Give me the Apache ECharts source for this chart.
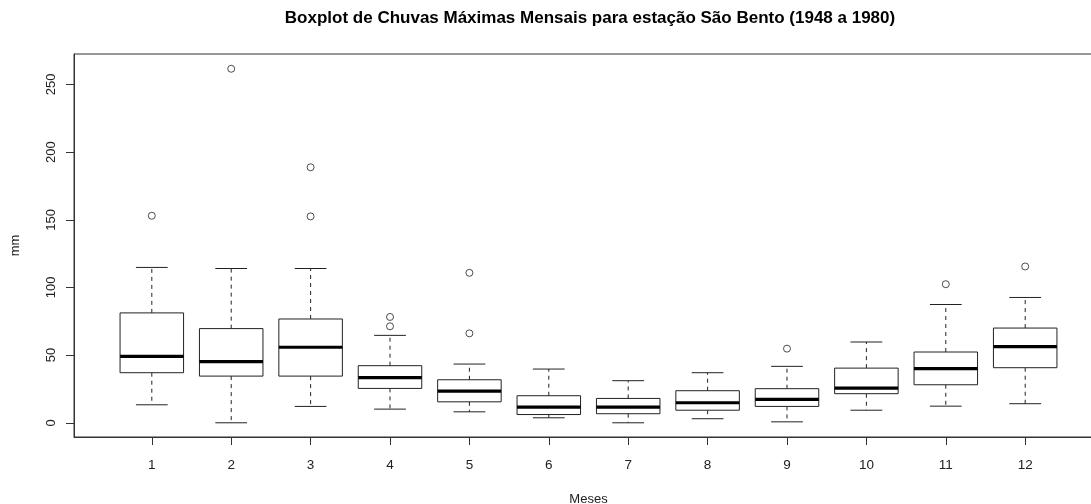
<!DOCTYPE html>
<html>
<head>
<meta charset="utf-8">
<title>Boxplot de Chuvas Máximas Mensais</title>
<script src="https://cdn.jsdelivr.net/npm/echarts@6/dist/echarts.min.js"></script>
<style>
  html, body { margin: 0; padding: 0; background: #fff; }
  #chart { width: 1091px; height: 504px; }
</style>
</head>
<body>
<div id="chart"></div>
<script>
// Monthly maximum rainfall (mm), São Bento station, 1948–1980
var months      = [1, 2, 3, 4, 5, 6, 7, 8, 9, 10, 11, 12];
var whiskerLow  = [13.3, 0.0, 12.1, 10.1, 8.1, 3.7, 0.0, 3.0, 0.7, 9.3, 12.3, 14.1];
var q1          = [37.0, 34.5, 34.5, 25.4, 15.5, 6.1, 6.7, 9.3, 12.1, 21.5, 28.1, 40.7];
var median      = [49.1, 45.2, 55.8, 33.3, 23.4, 11.6, 11.6, 14.8, 17.3, 25.6, 40.0, 56.3];
var q3          = [81.2, 69.6, 76.7, 42.2, 31.8, 20.0, 18.0, 23.7, 25.2, 40.4, 52.3, 70.0];
var whiskerHigh = [114.8, 114.0, 114.0, 64.6, 43.4, 39.7, 31.1, 37.0, 41.7, 59.7, 87.4, 92.6];
var outlierMonth = [1, 2, 3, 3, 4, 4, 5, 5, 9, 11, 12];
var outlierValue = [153.0, 261.6, 188.8, 152.5, 78.2, 71.3, 110.8, 66.1, 54.8, 102.4, 115.5];
var yTicks = [0, 50, 100, 150, 200, 250];

var BOX_WIDTH = 0.8;   // in month units
var CAP_WIDTH = 0.4;
var INK = '#222';
var FONT = 'Liberation Sans, Arial, sans-serif';

var boxData = months.map(function (m, i) {
  return [m, whiskerLow[i], q1[i], median[i], q3[i], whiskerHigh[i]];
});
var outlierData = outlierMonth.map(function (m, i) { return [m, outlierValue[i]]; });

function renderBox(params, api) {
  var x = api.value(0);
  var lo = api.coord([x, api.value(1)]);
  var b1 = api.coord([x, api.value(2)]);
  var md = api.coord([x, api.value(3)]);
  var b3 = api.coord([x, api.value(4)]);
  var hi = api.coord([x, api.value(5)]);
  var hb = api.size([BOX_WIDTH, 0])[0] / 2;
  var hc = api.size([CAP_WIDTH, 0])[0] / 2;
  var cx = lo[0];
  var solid = { stroke: INK, lineWidth: 1, fill: null };
  var dashed = { stroke: INK, lineWidth: 1, lineDash: [4, 4], fill: null };
  return {
    type: 'group',
    children: [
      { type: 'line', shape: { x1: cx, y1: b3[1], x2: cx, y2: hi[1] }, style: dashed },
      { type: 'line', shape: { x1: cx, y1: b1[1], x2: cx, y2: lo[1] }, style: dashed },
      { type: 'line', shape: { x1: cx - hc, y1: hi[1], x2: cx + hc, y2: hi[1] }, style: solid },
      { type: 'line', shape: { x1: cx - hc, y1: lo[1], x2: cx + hc, y2: lo[1] }, style: solid },
      { type: 'rect', shape: { x: cx - hb, y: b3[1], width: 2 * hb, height: b1[1] - b3[1] },
        style: { stroke: INK, lineWidth: 1, fill: '#fff' } },
      { type: 'line', shape: { x1: cx - hb, y1: md[1], x2: cx + hb, y2: md[1] },
        style: { stroke: '#000', lineWidth: 3.2 } }
    ]
  };
}

var chart = echarts.init(document.getElementById('chart'), null, { renderer: 'canvas' });
chart.setOption({
  backgroundColor: '#fff',
  animation: false,
  title: {
    text: 'Boxplot de Chuvas Máximas Mensais para estação São Bento (1948 a 1980)',
    left: 585,
    textAlign: 'center',
    top: 5,
    textStyle: { fontFamily: FONT, fontWeight: 'bold', fontSize: 17, color: '#000' }
  },
  grid: {
    left: 74, top: 54, width: 1029, height: 383,
    outerBoundsMode: 'none',
    containLabel: false,
    show: true, borderColor: '#333', borderWidth: 1, backgroundColor: 'transparent'
  },
  xAxis: {
    type: 'value',
    min: 0.02, max: 12.98,
    name: 'Meses',
    nameLocation: 'middle',
    nameGap: 56,
    nameTextStyle: { fontFamily: FONT, fontSize: 13, color: '#222' },
    splitLine: { show: false },
    axisLine: { show: true, onZero: false, lineStyle: { color: '#333', width: 1 } },
    axisTick: { show: true, inside: false, length: 8, customValues: months, lineStyle: { color: '#333' } },
    axisLabel: { customValues: months, margin: 21, fontFamily: FONT, fontSize: 13.5, color: '#222' }
  },
  yAxis: {
    type: 'value',
    min: -10.5, max: 272.5,
    name: 'mm',
    nameLocation: 'middle',
    nameGap: 52,
    nameRotate: 90,
    nameTextStyle: { fontFamily: FONT, fontSize: 13, color: '#222' },
    splitLine: { show: false },
    axisLine: { show: true, onZero: false, lineStyle: { color: '#333', width: 1 } },
    axisTick: { show: true, inside: false, length: 8, customValues: yTicks, lineStyle: { color: '#333' } },
    axisLabel: { customValues: yTicks, rotate: 90, margin: 16, fontFamily: FONT, fontSize: 13, color: '#222' }
  },
  series: [
    {
      type: 'custom',
      name: 'box',
      renderItem: renderBox,
      data: boxData,
      encode: { x: 0, y: [1, 2, 3, 4, 5] },
      clip: false
    },
    {
      type: 'scatter',
      name: 'outliers',
      data: outlierData,
      symbol: 'circle',
      symbolSize: 7,
      z: 5,
      itemStyle: { color: '#fff', borderColor: INK, borderWidth: 1 }
    }
  ]
});
</script>
</body>
</html>
